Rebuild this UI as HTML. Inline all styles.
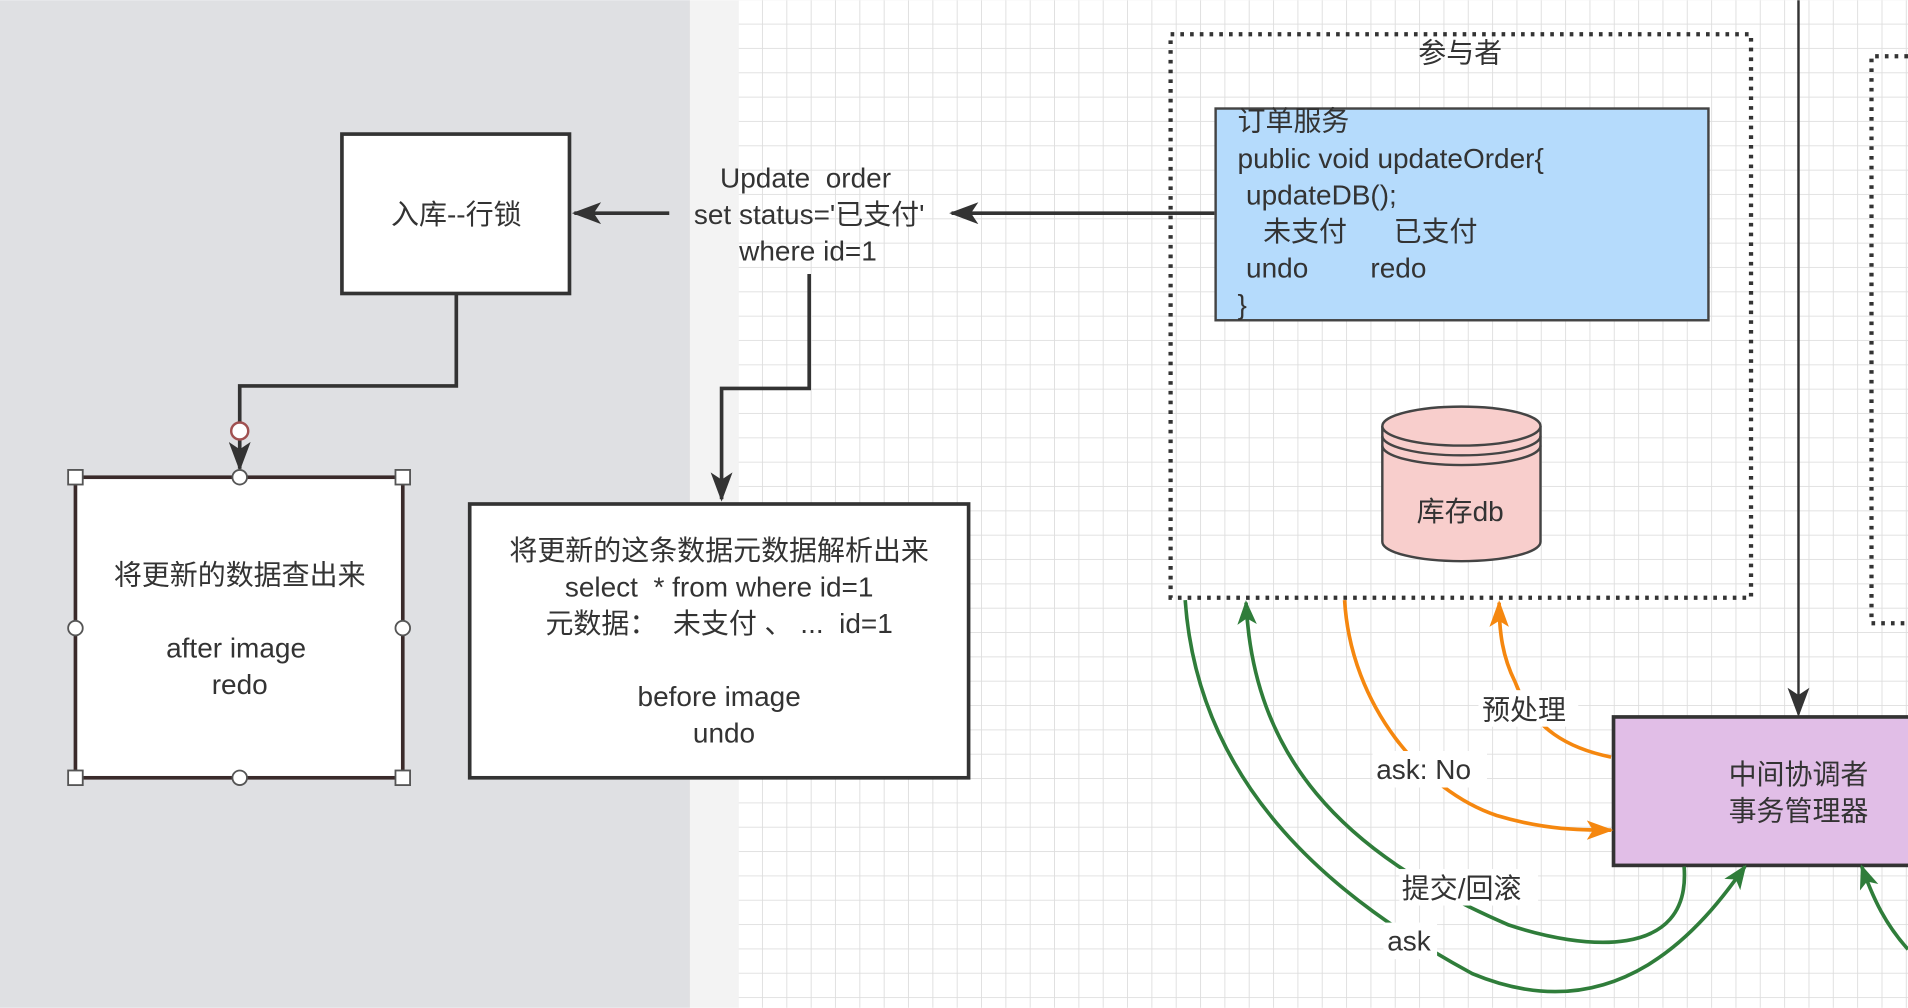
<!DOCTYPE html>
<html><head><meta charset="utf-8"><style>
html,body{margin:0;padding:0;width:1908px;height:1008px;overflow:hidden;background:#fff}
svg{display:block}
text{font-family:"Liberation Sans","Noto Sans CJK SC",sans-serif;fill:#333;white-space:pre}
</style></head><body>
<svg width="1908" height="1008" viewBox="0 0 1568 828" xmlns="http://www.w3.org/2000/svg" xml:space="preserve">
<defs>
<pattern id="g" width="20" height="20" patternUnits="userSpaceOnUse" x="607" y="0">
<path d="M20 0V20M0 20H20" stroke="#dedede" stroke-width="1.5" fill="none"/>
</pattern>
<marker id="ab2" markerWidth="26" markerHeight="18" refX="22" refY="9" orient="auto" markerUnits="userSpaceOnUse"><path d="M0 0L24 9L0 18L6 9Z" fill="#333"/></marker>
<marker id="ag" markerWidth="20" markerHeight="20" refX="18" refY="10" orient="auto" markerUnits="userSpaceOnUse"><path d="M0 2L20 10L0 18L5 10Z" fill="#2f7d3a"/></marker>
<marker id="ao" markerWidth="22" markerHeight="20" refX="20" refY="10" orient="auto" markerUnits="userSpaceOnUse"><path d="M0 2L22 10L0 18L5 10Z" fill="#f5870f"/></marker>
</defs>
<rect width="1568" height="828" fill="#fff"/>
<rect x="607" width="961" height="828" fill="url(#g)"/>
<rect width="567" height="828" fill="#dfe0e3"/>
<rect x="567" width="40" height="828" fill="#f3f3f3"/>

<rect x="281" y="110" width="187" height="131" fill="#fff" stroke="#333" stroke-width="3"/>
<text x="375" y="184" font-size="23" text-anchor="middle">入库--行锁</text>

<line x1="998" y1="175" x2="782" y2="175" stroke="#333" stroke-width="3" marker-end="url(#ab2)"/>
<line x1="550" y1="175" x2="472" y2="175" stroke="#333" stroke-width="3" marker-end="url(#ab2)"/>
<text x="662" y="154" font-size="23" text-anchor="middle">Update  order</text>
<text x="665" y="184" font-size="23" text-anchor="middle">set status='已支付'</text>
<text x="664" y="214" font-size="23" text-anchor="middle">where id=1</text>

<polyline points="375,241 375,317 197,317 197,385" fill="none" stroke="#333" stroke-width="3" marker-end="url(#ab2)"/>
<polyline points="665,225 665,319 593,319 593,410" fill="none" stroke="#333" stroke-width="3" marker-end="url(#ab2)"/>
<circle cx="197" cy="354" r="7" fill="#fff" stroke="#a05050" stroke-width="2"/>

<rect x="62" y="392" width="269" height="247" fill="#fff" stroke="#3a2a2a" stroke-width="3"/>
<text x="197" y="480" font-size="23" text-anchor="middle">将更新的数据查出来</text>
<text x="194" y="540" font-size="23" text-anchor="middle">after image</text>
<text x="197" y="570" font-size="23" text-anchor="middle">redo</text>
<g fill="#fff" stroke="#555" stroke-width="1.5">
<rect x="56" y="386" width="12" height="12"/><rect x="325" y="386" width="12" height="12"/>
<rect x="56" y="633" width="12" height="12"/><rect x="325" y="633" width="12" height="12"/>
<circle cx="197" cy="392" r="6"/><circle cx="197" cy="639" r="6"/>
<circle cx="62" cy="516" r="6"/><circle cx="331" cy="516" r="6"/>
</g>

<rect x="386" y="414" width="410" height="225" fill="#fff" stroke="#333" stroke-width="3"/>
<text x="591" y="460" font-size="23" text-anchor="middle">将更新的这条数据元数据解析出来</text>
<text x="591" y="490" font-size="23" text-anchor="middle">select  * from where id=1</text>
<text x="591" y="520" font-size="23" text-anchor="middle">元数据：  未支付 、 ...  id=1</text>
<text x="591" y="580" font-size="23" text-anchor="middle">before image</text>
<text x="595" y="610" font-size="23" text-anchor="middle">undo</text>

<rect x="962" y="28" width="477" height="463" fill="none" stroke="#333" stroke-width="3.5" stroke-dasharray="3 5"/>
<text x="1200" y="51" font-size="23" text-anchor="middle">参与者</text>
<rect x="999" y="89" width="405" height="174" fill="#b5dbfc" stroke="#444" stroke-width="2"/>
<g font-size="23">
<text x="1017" y="107">订单服务</text>
<text x="1017" y="138">public void updateOrder{</text>
<text x="1024" y="168">updateDB();</text>
<text x="1038" y="198">未支付      已支付</text>
<text x="1024" y="228">undo        redo</text>
<text x="1017" y="258">}</text>
</g>
<path d="M1136 350V445A65 16 0 0 0 1266 445V350" fill="#f8cecc" stroke="#444" stroke-width="2"/>
<ellipse cx="1201" cy="350" rx="65" ry="16" fill="#f8cecc" stroke="#444" stroke-width="2"/>
<path d="M1136 358A65 16 0 0 0 1266 358M1136 366A65 16 0 0 0 1266 366" fill="none" stroke="#444" stroke-width="2"/>
<text x="1200" y="428" font-size="23" text-anchor="middle">库存db</text>

<path d="M1568 46H1538V512H1568" fill="none" stroke="#333" stroke-width="3.5" stroke-dasharray="3 5"/>

<line x1="1478" y1="0" x2="1478" y2="587" stroke="#333" stroke-width="2" marker-end="url(#ab2)"/>

<rect x="1326" y="589" width="250" height="122" fill="#e1bee7" stroke="#333" stroke-width="3"/>
<text x="1478" y="644" font-size="23" text-anchor="middle">中间协调者</text>
<text x="1478" y="674" font-size="23" text-anchor="middle">事务管理器</text>

<g fill="none" stroke-width="3">
<path d="M974 493C985 650 1100 740 1210 800C1330 850 1400 760 1434 712" stroke="#2f7d3a" marker-end="url(#ag)"/>
<path d="M1384 712C1390 790 1300 780 1240 760C1100 700 1030 620 1024 495" stroke="#2f7d3a" marker-end="url(#ag)"/>
<path d="M1105 493C1110 580 1170 650 1230 670C1270 682 1300 682 1324 682" stroke="#f5870f" marker-end="url(#ao)"/>
<path d="M1324 622C1290 615 1260 600 1245 560C1235 540 1232 520 1232 495" stroke="#f5870f" marker-end="url(#ao)"/>
<path d="M1568 780C1550 760 1540 740 1530 712" stroke="#2f7d3a" marker-end="url(#ag)"/>
</g>
<g font-size="23">
<rect x="1215" y="567" width="82" height="30" fill="#fff"/><text x="1218" y="591">预处理</text>
<rect x="1128" y="617" width="94" height="30" fill="#fff"/><text x="1131" y="640">ask: No</text>
<rect x="1150" y="714" width="114" height="30" fill="#fff"/><text x="1152" y="738">提交/回滚</text>
<rect x="1137" y="758" width="44" height="30" fill="#fff"/><text x="1140" y="781">ask</text>
</g>
</svg>
</body></html>
